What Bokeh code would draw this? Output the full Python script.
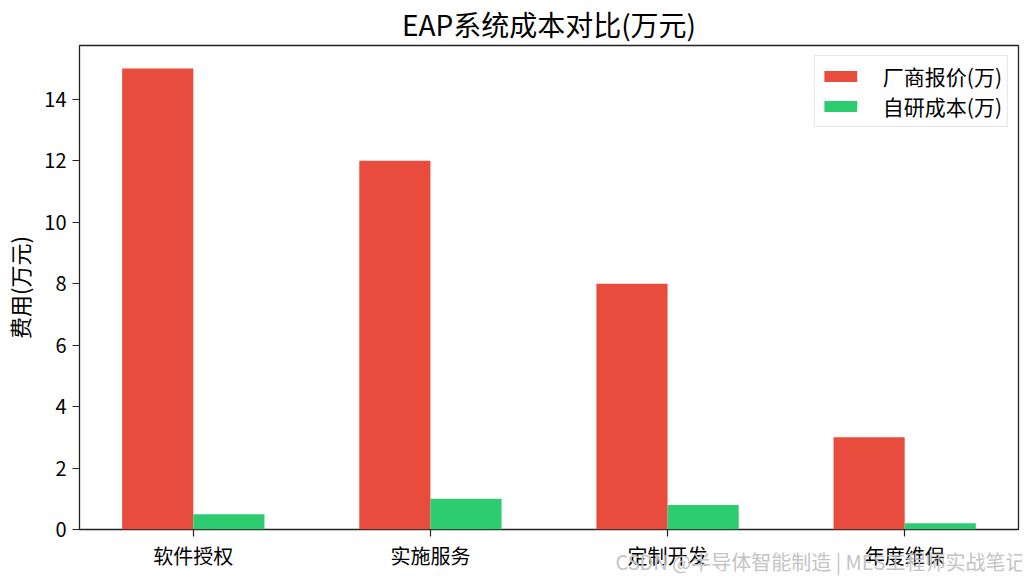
from bokeh.plotting import figure
from bokeh.models import FixedTicker, Range1d, Legend, LegendItem, Title
from bokeh.embed import file_html
from bokeh.resources import INLINE

categories = ["软件授权", "实施服务", "定制开发", "年度维保"]
vendor_quote = [15, 12, 8, 3]
self_dev_cost = [0.5, 1.0, 0.8, 0.2]
y_ticks = [0, 2, 4, 6, 8, 10, 12, 14]
series_names = ["厂商报价(万)", "自研成本(万)"]
title_text = "EAP系统成本对比(万元)"
y_label = "费用(万元)"
watermark = "CSDN @半导体智能制造 | MES工程师实战笔记"

FONT = "Noto Sans CJK SC"
RED = "#e74c3c"
GREEN = "#2ecc71"
W = 0.3

idx = list(range(len(categories)))
x_red = [i - W / 2 for i in idx]
x_green = [i + W / 2 for i in idx]

p = figure(frame_width=939, frame_height=484, output_backend="svg", toolbar_location=None,
           x_range=Range1d(-0.48, len(categories) - 1 + 0.48),
           y_range=Range1d(0, max(vendor_quote) * 1.05),
           min_border_left=71, min_border_right=4, min_border_top=38, min_border_bottom=50)

r1 = p.vbar(x=x_red, top=vendor_quote, width=W, bottom=0, fill_color=RED, line_color=None)
r2 = p.vbar(x=x_green, top=self_dev_cost, width=W, bottom=0, fill_color=GREEN, line_color=None)

p.title.text = title_text
p.title.align = "center"
p.title.text_font = FONT
p.title.text_font_size = "28px"
p.title.text_font_style = "normal"
p.title.text_color = "black"
p.title.standoff = 3

p.xgrid.visible = False
p.ygrid.visible = False
p.outline_line_color = "#222222"
p.outline_line_width = 1.3
p.outline_line_alpha = 1.0

p.xaxis.ticker = FixedTicker(ticks=idx)
p.xaxis.major_label_overrides = {i: c for i, c in zip(idx, categories)}
p.yaxis.ticker = FixedTicker(ticks=y_ticks)
for ax in (p.xaxis, p.yaxis):
    ax.axis_line_color = None
    ax.major_tick_out = 7
    ax.major_tick_in = 0
    ax.minor_tick_line_color = None
    ax.major_tick_line_color = "#222222"
    ax.major_tick_line_width = 1.2
    ax.major_label_text_font = FONT
    ax.major_label_text_font_size = "20px"
    ax.major_label_text_color = "black"
p.xaxis.major_label_standoff = 4
p.yaxis.major_label_standoff = 6
p.yaxis.axis_label = y_label
p.yaxis.axis_label_text_font = FONT
p.yaxis.axis_label_text_font_size = "22px"
p.yaxis.axis_label_text_font_style = "normal"
p.yaxis.axis_label_text_color = "black"
p.yaxis.axis_label_standoff = 6

# watermark below the x axis, right aligned, pulled up over the tick labels
wm = Title(text=watermark, align="right", vertical_align="top",
           text_font=FONT, text_font_size="20px", text_font_style="normal",
           text_color="#c4c4c4", standoff=-52, offset=-7)
p.add_layout(wm, "below")

legend = Legend(items=[LegendItem(label=series_names[0], renderers=[r1]),
                       LegendItem(label=series_names[1], renderers=[r2])],
                location="top_right")
legend.label_text_font = FONT
legend.label_text_font_size = "21px"
legend.label_text_color = "black"
legend.glyph_width = 41
legend.glyph_height = 14
legend.label_standoff = 22
legend.label_height = 22
legend.spacing = 0
legend.padding = 5
legend.margin = 10
legend.border_line_color = "#cccccc"
legend.border_line_width = 1.5
legend.background_fill_alpha = 0.9
p.add_layout(legend)

open("out.html", "w").write(file_html(p, INLINE))
